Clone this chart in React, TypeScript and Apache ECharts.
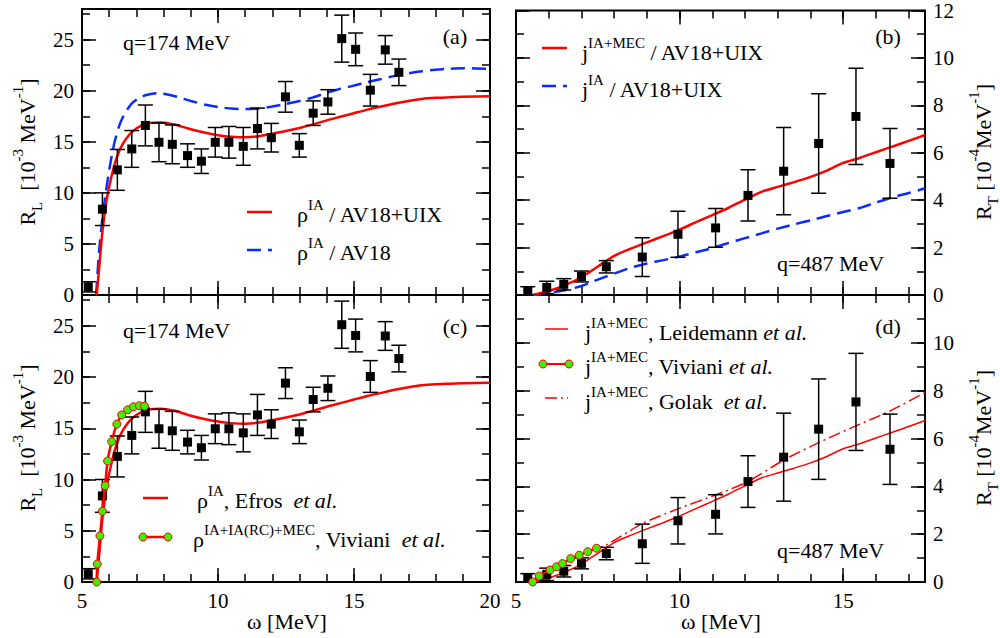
import React, { useEffect, useRef } from 'react';
import * as echarts from 'echarts';

const FONT = 'Liberation Serif';

// ---- data: longitudinal response, q = 174 MeV (panels a, c)
const omegaL = [5.23, 5.75, 6.3, 6.83, 7.33, 7.83, 8.32, 8.88, 9.39, 9.9, 10.4, 10.93, 11.45, 11.96, 12.48, 12.99, 13.5, 14.04, 14.55, 15.06, 15.6, 16.15, 16.65];
const RL = [0.8, 8.4, 12.25, 14.3, 16.6, 14.95, 14.75, 13.65, 13.1, 14.95, 14.95, 14.55, 16.3, 15.4, 19.4, 14.65, 17.8, 18.9, 25.1, 24.05, 20.05, 24.0, 21.8];
const RLerr = [0.5, 1.6, 2.0, 1.8, 2.0, 1.9, 1.9, 1.15, 1.2, 1.45, 1.55, 1.85, 2.0, 1.4, 1.5, 1.15, 1.2, 1.2, 2.3, 1.6, 1.55, 1.4, 1.3];

const rhoIA_AV18UIX = [[5.54, 0], [5.65, 3.2], [5.75, 6.2], [5.9, 9.2], [6.05, 11.2], [6.2, 12.8], [6.4, 14.3], [6.65, 15.4], [6.9, 16.1], [7.2, 16.6], [7.5, 16.85], [7.9, 16.9], [8.4, 16.7], [8.9, 16.3], [9.5, 15.9], [10.0, 15.65], [10.5, 15.5], [11.0, 15.45], [11.5, 15.55], [12.0, 15.8], [12.5, 16.05], [13.0, 16.35], [13.5, 16.7], [14.0, 17.1], [14.5, 17.45], [15.0, 17.8], [15.5, 18.15], [16.0, 18.45], [16.5, 18.75], [17.0, 19.0], [17.5, 19.2], [18.0, 19.3], [18.5, 19.35], [19.0, 19.4], [20.0, 19.45]];
const rhoIA_AV18 = [[5.52, 0], [5.62, 4.0], [5.75, 7.5], [5.9, 10.5], [6.05, 13.0], [6.2, 15.0], [6.4, 16.8], [6.6, 17.9], [6.85, 18.8], [7.1, 19.3], [7.4, 19.6], [7.75, 19.75], [8.1, 19.65], [8.5, 19.4], [9.0, 19.0], [9.5, 18.65], [10.0, 18.4], [10.5, 18.25], [11.0, 18.2], [11.5, 18.25], [12.0, 18.45], [12.5, 18.7], [13.0, 19.0], [13.5, 19.35], [14.0, 19.8], [14.5, 20.2], [15.0, 20.5], [15.5, 20.85], [16.0, 21.15], [16.5, 21.45], [17.0, 21.7], [17.5, 21.9], [18.0, 22.05], [18.5, 22.15], [19.0, 22.2], [20.0, 22.15]];
const rhoViviani = [[5.54, 0], [5.56, 1.75], [5.66, 4.5], [5.75, 6.9], [5.85, 9.4], [5.94, 11.8], [6.09, 13.7], [6.28, 15.4], [6.46, 16.3], [6.68, 16.8], [6.89, 17.1], [7.11, 17.2], [7.3, 17.15]];

// ---- data: transverse response, q = 487 MeV (panels b, d)
const omegaT = [5.36, 5.94, 6.46, 7.0, 7.76, 8.86, 9.95, 11.1, 12.09, 13.18, 14.25, 15.39, 16.43];
const RT = [0.17, 0.32, 0.45, 0.78, 1.19, 1.6, 2.56, 2.83, 4.2, 5.22, 6.39, 7.53, 5.55];
const RTerr = [0.18, 0.26, 0.24, 0.23, 0.26, 0.82, 0.97, 0.82, 1.08, 1.84, 2.1, 2.03, 1.47];

const jIAMEC = [[5.53, 0], [6.0, 0.17], [6.5, 0.42], [7.0, 0.75], [7.5, 1.2], [8.0, 1.65], [8.5, 1.95], [9.0, 2.22], [9.5, 2.48], [10.0, 2.76], [10.5, 3.07], [11.0, 3.37], [11.5, 3.68], [12.0, 4.02], [12.5, 4.35], [13.0, 4.56], [13.5, 4.76], [14.0, 4.98], [14.5, 5.25], [15.0, 5.57], [15.5, 5.78], [16.0, 6.02], [16.5, 6.26], [17.0, 6.5], [17.5, 6.75]];
const jIA = [[5.53, 0], [6.0, 0.08], [6.5, 0.2], [7.0, 0.38], [7.5, 0.65], [8.0, 0.9], [8.5, 1.15], [9.0, 1.33], [9.5, 1.47], [10.0, 1.62], [10.5, 1.8], [11.0, 1.98], [11.5, 2.2], [12.0, 2.4], [12.5, 2.6], [13.0, 2.8], [13.5, 2.98], [14.0, 3.15], [14.5, 3.33], [15.0, 3.5], [15.5, 3.67], [16.0, 3.9], [16.5, 4.12], [17.0, 4.3], [17.5, 4.5]];
const jGolak = [[5.53, 0], [6.24, 0.64], [6.95, 1.13], [7.76, 1.55], [8.87, 2.45], [9.99, 3.08], [11.1, 3.64], [12.09, 4.2], [13.18, 5.1], [14.25, 5.83], [15.39, 6.53], [16.4, 7.13], [17.5, 7.92]];
const jViviani = [[5.51, 0], [5.71, 0.25], [6.04, 0.5], [6.24, 0.64], [6.42, 0.77], [6.67, 0.98], [6.93, 1.12], [7.19, 1.27], [7.46, 1.41]];

// ---- axis ranges / ticks
const XL = { min: 5, max: 20, major: 5, minor: 1 };
const XT = { min: 5, max: 17.5, major: 5, minor: 1 };
const YL = { min: 0, max: 28, major: 5, minor: 2.5 };
const YT = { min: 0, max: 12, major: 2, minor: 1 };

const RED = '#ff0000';
const BLUE = '#0a2bff';
const GREEN = '#3cf000';

const GRIDS = [
  { left: 82, top: 9, width: 408, height: 286 },
  { left: 516, top: 9, width: 409, height: 286 },
  { left: 82, top: 295, width: 408, height: 287 },
  { left: 516, top: 295, width: 409, height: 287 },
];

function makeAxes(kind: 'x' | 'y', g: number, lim: any, labelSide: string | null, keep: (v: number) => boolean) {
  const sides = kind === 'x' ? ['bottom', 'top'] : ['left', 'right'];
  const out: any[] = [];
  for (const side of sides) {
    for (const isMajor of [true, false]) {
      out.push({
        type: 'value',
        gridIndex: g,
        position: side,
        min: lim.min,
        max: lim.max,
        interval: isMajor ? lim.major : lim.minor,
        axisLine: { show: false, onZero: false },
        axisTick: { show: true, inside: true, length: isMajor ? 14 : 8, lineStyle: { color: '#000', width: 1.5 } },
        axisLabel: {
          show: isMajor && side === labelSide,
          margin: 8,
          fontFamily: FONT,
          fontSize: 21,
          color: '#000',
          formatter: (v: number) => (keep(v) ? String(v) : ''),
        },
        splitLine: { show: false },
        minorTick: { show: false },
      });
    }
  }
  return out;
}

const CAP = 7.5;
function errRender(params: any, api: any) {
  const x = api.value(0);
  const y = api.value(1);
  const e = api.value(2);
  const hi = api.coord([x, y + e]);
  const lo = api.coord([x, y - e]);
  const st = { stroke: '#000', lineWidth: 1.5, fill: 'none' };
  return {
    type: 'group',
    children: [
      { type: 'line', shape: { x1: hi[0], y1: hi[1], x2: lo[0], y2: lo[1] }, style: st },
      { type: 'line', shape: { x1: hi[0] - CAP, y1: hi[1], x2: hi[0] + CAP, y2: hi[1] }, style: st },
      { type: 'line', shape: { x1: lo[0] - CAP, y1: lo[1], x2: lo[0] + CAP, y2: lo[1] }, style: st },
    ],
  };
}

function dataSeries(g: number, xs: number[], ys: number[], es: number[]) {
  return [
    {
      type: 'custom',
      xAxisIndex: 4 * g,
      yAxisIndex: 4 * g,
      data: xs.map((x, i) => [x, ys[i], es[i]]),
      renderItem: errRender,
      clip: true,
      silent: true,
      z: 4,
    },
    {
      type: 'scatter',
      xAxisIndex: 4 * g,
      yAxisIndex: 4 * g,
      data: xs.map((x, i) => [x, ys[i]]),
      symbol: 'rect',
      symbolSize: 9,
      itemStyle: { color: '#000', opacity: 1 },
      silent: true,
      z: 5,
    },
  ];
}

function curve(g: number, data: number[][], color: string, width: number, type: any, z = 3) {
  return {
    type: 'line',
    xAxisIndex: 4 * g,
    yAxisIndex: 4 * g,
    data,
    symbol: 'none',
    showSymbol: false,
    smooth: 0.2,
    lineStyle: { color, width, type },
    silent: true,
    clip: true,
    z,
  };
}

function dotted(g: number, data: number[][], width: number) {
  return {
    type: 'line',
    xAxisIndex: 4 * g,
    yAxisIndex: 4 * g,
    data,
    symbol: 'circle',
    symbolSize: 8,
    showSymbol: true,
    smooth: 0.2,
    lineStyle: { color: RED, width },
    itemStyle: { color: GREEN, borderColor: RED, borderWidth: 1, opacity: 1 },
    silent: true,
    clip: true,
    z: 6,
  };
}

const rich = {
  m: { fontFamily: FONT, fontSize: 22, lineHeight: 34, fill: '#000' },
  i: { fontFamily: FONT, fontSize: 22, lineHeight: 34, fontStyle: 'italic', fill: '#000' },
  s: { fontFamily: FONT, fontSize: 15, lineHeight: 16, verticalAlign: 'top', fill: '#000' },
  b: { fontFamily: FONT, fontSize: 15, lineHeight: 16, verticalAlign: 'bottom', fill: '#000' },
};

function rtext(x: number, y: number, text: string, align = 'left', rotation = 0) {
  return {
    type: 'text',
    x,
    y,
    rotation,
    silent: true,
    z: 20,
    style: { text, rich, align, verticalAlign: 'middle', fill: '#000', fontFamily: FONT, fontSize: 22 },
  };
}
function ptext(x: number, y: number, text: string, align = 'left') {
  return {
    type: 'text',
    x,
    y,
    silent: true,
    z: 20,
    style: { text, align, verticalAlign: 'middle', fill: '#000', fontFamily: FONT, fontSize: 22 },
  };
}
function lline(x1: number, x2: number, y: number, stroke: string, lineWidth: number, lineDash?: number[]) {
  return {
    type: 'line',
    silent: true,
    z: 20,
    shape: { x1, y1: y, x2, y2: y },
    style: { stroke, lineWidth, lineDash: lineDash || null },
  };
}
function ldot(cx: number, cy: number) {
  return { type: 'circle', silent: true, z: 21, shape: { cx, cy, r: 4 }, style: { fill: GREEN, stroke: RED, lineWidth: 1 } };
}

export default function App() {
  const ref = useRef<HTMLDivElement>(null);
  useEffect(() => {
    document.body.style.margin = '0';
    const chart = echarts.init(ref.current!, null, { renderer: 'svg' });
    const is5 = (v: number) => v % 5 === 0;
    const xAxis = [
      ...makeAxes('x', 0, XL, null, is5),
      ...makeAxes('x', 1, XT, null, is5),
      ...makeAxes('x', 2, XL, 'bottom', is5),
      ...makeAxes('x', 3, XT, 'bottom', is5),
    ];
    const yAxis = [
      ...makeAxes('y', 0, YL, 'left', (v) => v % 5 === 0 && v <= 25),
      ...makeAxes('y', 1, YT, 'right', (v) => v % 2 === 0),
      ...makeAxes('y', 2, YL, 'left', (v) => v % 5 === 0 && v <= 25),
      ...makeAxes('y', 3, YT, 'right', (v) => v % 2 === 0 && v <= 10),
    ];
    const series = [
      curve(0, rhoIA_AV18, BLUE, 2.5, [14, 7]),
      curve(0, rhoIA_AV18UIX, RED, 2.5, 'solid'),
      ...dataSeries(0, omegaL, RL, RLerr),

      curve(1, jIA, BLUE, 2.5, [14, 7]),
      curve(1, jIAMEC, RED, 2.5, 'solid'),
      ...dataSeries(1, omegaT, RT, RTerr),

      curve(2, rhoIA_AV18UIX, RED, 2.5, 'solid'),
      dotted(2, rhoViviani, 2.5),
      ...dataSeries(2, omegaL, RL, RLerr),

      curve(3, jIAMEC, RED, 1.5, 'solid'),
      curve(3, jGolak, RED, 1.5, [12, 4, 2, 4]),
      dotted(3, jViviani, 2),
      ...dataSeries(3, omegaT, RT, RTerr),
    ];
    const graphic = [
      // panel (a)
      ptext(123, 42, 'q=174 MeV'),
      ptext(455, 36, '(a)', 'center'),
      lline(247, 272, 212, RED, 2.5),
      rtext(297, 214, '{m|ρ}{s|IA}{m| / AV18+UIX}'),
      lline(247, 272, 250, BLUE, 2.5, [14, 7]),
      rtext(297, 252, '{m|ρ}{s|IA}{m| / AV18}'),
      // panel (b)
      ptext(888, 36, '(b)', 'center'),
      ptext(777, 263, 'q=487 MeV'),
      lline(542, 567, 48, RED, 2.5),
      rtext(582, 52, '{m|j}{s|IA+MEC}{m| / AV18+UIX}'),
      lline(542, 567, 86, BLUE, 2.5, [14, 7]),
      rtext(582, 89, '{m|j}{s|IA}{m| / AV18+UIX}'),
      // panel (c)
      ptext(123, 330, 'q=174 MeV'),
      ptext(455, 326, '(c)', 'center'),
      lline(143, 168, 498, RED, 2.5),
      rtext(197, 500, '{m|ρ}{s|IA}{m|, Efros  }{i|et al.}'),
      lline(143, 168, 537, RED, 2.5),
      ldot(143, 537),
      ldot(168, 537),
      rtext(193, 539, '{m|ρ}{s|IA+IA(RC)+MEC}{m|, Viviani  }{i|et al.}'),
      // panel (d)
      ptext(888, 326, '(d)', 'center'),
      ptext(777, 550, 'q=487 MeV'),
      lline(545, 568, 329, RED, 1.5),
      rtext(585, 332, '{m|j}{s|IA+MEC}{m|, Leidemann }{i|et al.}'),
      lline(543, 569, 364, RED, 2),
      ldot(543, 364),
      ldot(569, 364),
      rtext(585, 366, '{m|j}{s|IA+MEC}{m|, Viviani }{i|et al.}'),
      lline(545, 568, 398, RED, 1.5, [12, 4, 2, 4]),
      rtext(585, 401, '{m|j}{s|IA+MEC}{m|, Golak  }{i|et al.}'),
      // axis titles
      rtext(27, 152, '{m|R}{b|L}{m|  [10}{s|-3}{m| MeV}{s|-1}{m|]}', 'center', Math.PI / 2),
      rtext(27, 438, '{m|R}{b|L}{m|  [10}{s|-3}{m| MeV}{s|-1}{m|]}', 'center', Math.PI / 2),
      rtext(983, 152, '{m|R}{b|T}{m| [10}{s|-4}{m|MeV}{s|-1}{m|]}', 'center', Math.PI / 2),
      rtext(983, 438, '{m|R}{b|T}{m| [10}{s|-4}{m|MeV}{s|-1}{m|]}', 'center', Math.PI / 2),
      ptext(287, 621, 'ω [MeV]', 'center'),
      ptext(721, 621, 'ω [MeV]', 'center'),
    ];
    chart.setOption({
      animation: false,
      backgroundColor: '#fff',
      grid: GRIDS.map((g) => ({ ...g, show: true, borderColor: '#000', borderWidth: 2, backgroundColor: 'transparent', containLabel: false })),
      xAxis,
      yAxis,
      series,
      graphic,
    });
    return () => chart.dispose();
  }, []);
  return <div ref={ref} style={{ width: 1000, height: 638 }} />;
}
